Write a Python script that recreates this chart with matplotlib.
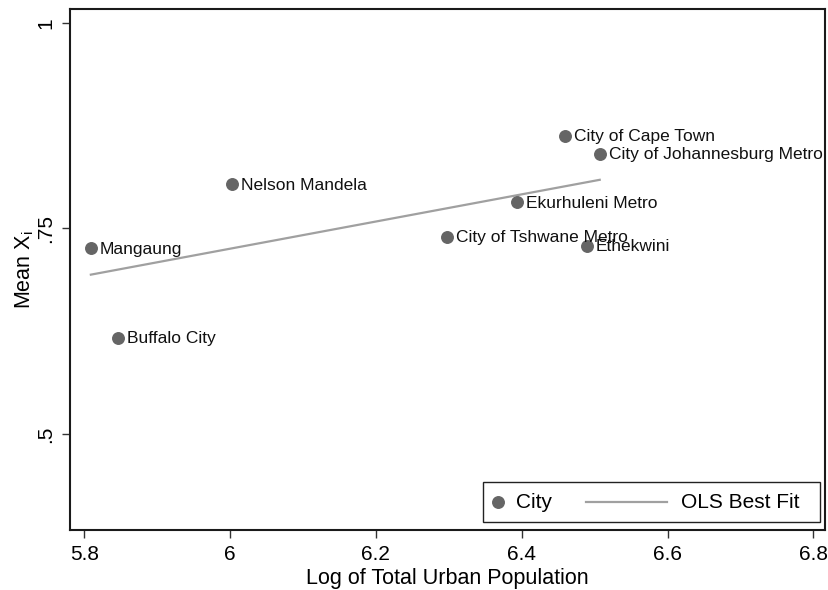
import numpy as np
import matplotlib
matplotlib.use("Agg")
import matplotlib.pyplot as plt
from matplotlib.patches import Rectangle
from matplotlib.lines import Line2D

plt.rcParams['font.family'] = ['Liberation Sans', 'DejaVu Sans']

cities = ["Mangaung", "Buffalo City", "Nelson Mandela", "City of Tshwane Metro",
          "Ekurhuleni Metro", "City of Cape Town", "City of Johannesburg Metro", "Ethekwini"]
log_pop = [5.809, 5.846, 6.003, 6.297, 6.393, 6.460, 6.507, 6.489]
mean_x = [0.7257, 0.617, 0.8035, 0.740, 0.7816, 0.863, 0.841, 0.729]

x_ticks = [5.8, 6.0, 6.2, 6.4, 6.6, 6.8]
x_ticklabels = ["5.8", "6", "6.2", "6.4", "6.6", "6.8"]
y_ticks = [0.5, 0.75, 1.0]
y_ticklabels = [".5", ".75", "1"]
legend_labels = ["City", "OLS Best Fit"]

W, H = 829, 590
fig = plt.figure(figsize=(W / 100, H / 100), dpi=100)
ax = fig.add_axes([70 / W, 1 - 530 / H, (825 - 70) / W, (530 - 9) / H])

x = np.array(log_pop)
y = np.array(mean_x)
b, a = np.polyfit(x, y, 1)
xs = np.array([x.min(), x.max()])

mcol = "#656565"
lcol = "#a0a0a0"
ax.plot(xs, a + b * xs, color=lcol, lw=1.6, zorder=2)
ax.plot(x, y, 'o', color=mcol, ms=8.3, mec=mcol, zorder=3)

for xi, yi, name in zip(x, y, cities):
    ax.annotate(name, (xi, yi), xytext=(6.5, -0.8), textcoords='offset points',
                ha='left', va='center', fontsize=12.5, color='#111111', zorder=4)

ax.set_xlim(5.7804, 6.816)
ax.set_ylim(0.383, 1.017)
ax.set_xticks(x_ticks)
ax.set_xticklabels(x_ticklabels)
ax.set_yticks(y_ticks)
ax.set_yticklabels(y_ticklabels, rotation=90, va='center')
ax.tick_params(axis='both', direction='out', length=5.8, width=1, color='#333333',
               labelsize=15, pad=5)
ax.tick_params(axis='y', pad=5)
for s in ax.spines.values():
    s.set_linewidth(1.5)
    s.set_color('#1a1a1a')

ax.set_xlabel("Log of Total Urban Population", fontsize=15.5, labelpad=3)
ax.set_ylabel(r"Mean X$_\mathregular{i}$", fontsize=15.5, labelpad=0)

# legend (Stata style: short marker key, long line key)
T = ax.transAxes
ax.add_patch(Rectangle((0.547, 0.0154), 0.9934 - 0.547, 0.0921 - 0.0154,
                       transform=T, facecolor='white', edgecolor='#222222',
                       lw=1.0, zorder=5))
ax.add_line(Line2D([0.5669], [0.0537], transform=T, marker='o', ms=8.3,
                   color=mcol, mec=mcol, ls='none', zorder=6))
ax.text(0.5907, 0.0537, legend_labels[0], transform=T, ha='left', va='center',
        fontsize=15, zorder=6)
ax.add_line(Line2D([0.6834, 0.7907], [0.0537, 0.0537], transform=T,
                   color=lcol, lw=1.6, zorder=6))
ax.text(0.8093, 0.0537, legend_labels[1], transform=T, ha='left', va='center',
        fontsize=15, zorder=6)

fig.savefig("out.png", dpi=100, facecolor='white')
